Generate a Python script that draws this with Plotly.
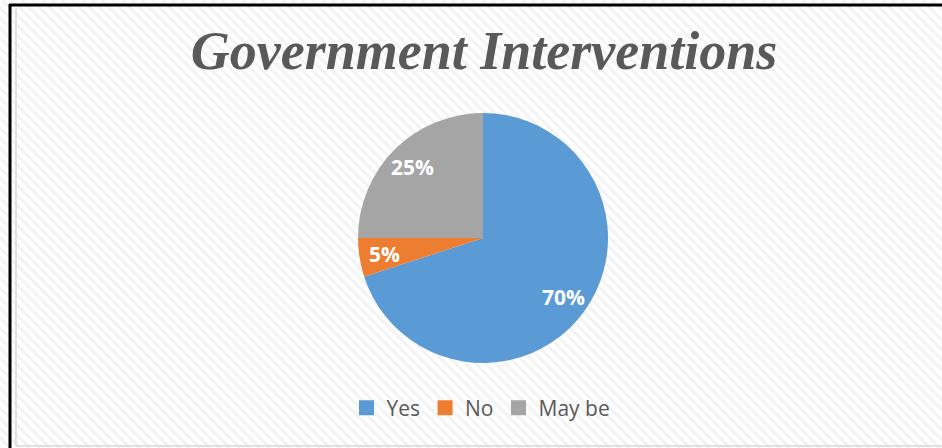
import math
import plotly.graph_objects as go

categories = ["Yes", "No", "May be"]
values = [70, 5, 25]
colors = ["#5B9BD5", "#ED7D31", "#A5A5A5"]

W, H = 942, 448
cx, cy, r = 483, 238, 125

fig = go.Figure(go.Pie(
    labels=categories,
    values=values,
    sort=False,
    direction="clockwise",
    rotation=0,
    marker=dict(colors=colors, line=dict(width=0)),
    textinfo="none",
    domain=dict(x=[(cx - r) / W, (cx + r) / W], y=[1 - (cy + r) / H, 1 - (cy - r) / H]),
    hoverinfo="label+percent",
    showlegend=False,
))

# legend proxies
for name, col in zip(categories, colors):
    fig.add_trace(go.Scatter(x=[None], y=[None], mode="markers", name=name,
                             marker=dict(symbol="square", size=15, color=col),
                             showlegend=True))

# percentage labels placed at 0.8 of radius along each slice's mid-angle
annotations = []
total = sum(values)
acc = 0
for v in values:
    mid = (acc + v / 2) / total * 2 * math.pi
    acc += v
    px = cx + 0.8 * r * math.sin(mid)
    py = cy - 0.8 * r * math.cos(mid)
    annotations.append(dict(x=px / W, y=1 - py / H, xref="paper", yref="paper",
                            text=f"<b>{round(v / total * 100)}%</b>", showarrow=False,
                            font=dict(family="Open Sans", size=21, color="white")))

shapes = []
step = 10
for k in range(-H, W + H, step):
    shapes.append(dict(type="line", xref="paper", yref="paper",
                       x0=k / W, y0=1, x1=(k + H) / W, y1=0,
                       line=dict(color="#f3f3f3", width=3), layer="below"))
shapes += [
    dict(type="line", xref="paper", yref="paper", x0=9 / W, y0=1 - 5 / H, x1=1, y1=1 - 5 / H,
         line=dict(color="black", width=3), layer="above"),
    dict(type="line", xref="paper", yref="paper", x0=10 / W, y0=1 - 4 / H, x1=10 / W, y1=0,
         line=dict(color="black", width=3), layer="above"),
    dict(type="line", xref="paper", yref="paper", x0=16 / W, y0=1 - 8 / H, x1=16 / W, y1=1 - 446 / H,
         line=dict(color="#d9d9d9", width=1.5), layer="above"),
    dict(type="line", xref="paper", yref="paper", x0=16 / W, y0=1 - 446 / H, x1=1, y1=1 - 446 / H,
         line=dict(color="#d9d9d9", width=1.5), layer="above"),
]

fig.update_layout(
    width=W, height=H,
    margin=dict(l=0, r=0, t=0, b=0),
    paper_bgcolor="white",
    plot_bgcolor="rgba(0,0,0,0)",
    xaxis=dict(visible=False),
    yaxis=dict(visible=False),
    shapes=shapes,
    annotations=annotations,
    title=dict(text="<b><i>Government Interventions</i></b>",
               x=484 / W, xanchor="center", y=1 - 50 / H, yanchor="middle",
               font=dict(family="Liberation Serif", size=54, color="#595959")),
    showlegend=True,
    legend=dict(orientation="h", x=481 / W, xanchor="center", y=1 - 408 / H, yanchor="middle",
                font=dict(family="Open Sans", size=21, color="#595959"),
                bgcolor="rgba(0,0,0,0)", itemwidth=30, tracegroupgap=0),
)

fig.write_html("out.html")
